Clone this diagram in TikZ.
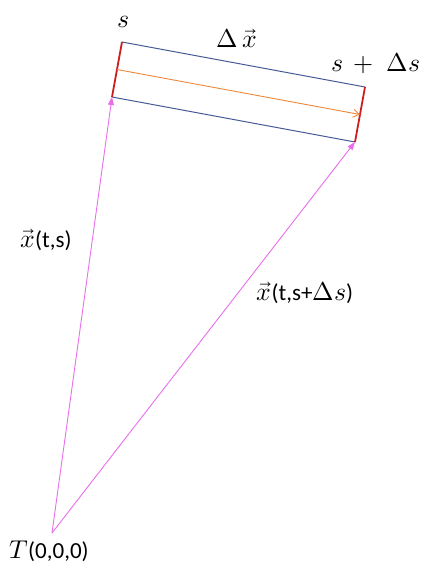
\documentclass[tikz,border=0pt]{standalone}
\usepackage{fontspec}
\usepackage{unicode-math}
\setmainfont{Carlito}
\setmathfont{Latin Modern Math}[Scale=1.12]
\usetikzlibrary{arrows.meta}
\definecolor{mag}{RGB}{232,110,235}
\definecolor{navy}{RGB}{70,90,150}
\definecolor{redl}{RGB}{205,30,30}
\definecolor{orng}{RGB}{237,135,60}
\begin{document}
\begin{tikzpicture}[x=1pt,y=-1pt,
  lbl/.style={font=\fontsize{23}{27}\selectfont, inner sep=0pt},
  vecarrow/.style={draw=mag, line width=0.9pt, -{Triangle[length=8pt,width=6pt]}},
  edge/.style={draw=navy, line width=1pt},
  endline/.style={draw=redl, line width=1.8pt}]
\useasboundingbox (0,0) rectangle (422,567);
\coordinate (A) at (122,42);
\coordinate (B) at (112,97);
\coordinate (C) at (365,87);
\coordinate (D) at (355,142);
\coordinate (T) at (52,533);
\coordinate (M1) at (117,69.5);
\coordinate (M2) at (360,114.5);
\draw[edge] (A) -- (C);
\draw[edge] (B) -- (D);
\draw[endline] (A) -- (B);
\draw[endline] (C) -- (D);
\draw[draw=orng, line width=0.9pt, -{Straight Barb[length=6pt,width=8pt]}] (M1) -- (M2);
\draw[vecarrow] (T) -- (B);
\draw[vecarrow] (T) -- (D);
\node[lbl] (ls) at (124,22) {$s$};
\node[lbl] (ldx) at (237,38) {$\Delta\mkern3mu\vec{x}$};
\node[lbl] (lsds) at (376,63) {$s\,+\;\Delta s$};
\node[lbl] (lxts) at (46,240) {$\vec{x}$(t,s)};
\node[lbl] (lxtsd) at (305,293) {$\vec{x}$(t,s+$\Delta s$)};
\node[lbl] (lT) at (49,551) {$T$(0,0,0)};
\end{tikzpicture}
\end{document}
